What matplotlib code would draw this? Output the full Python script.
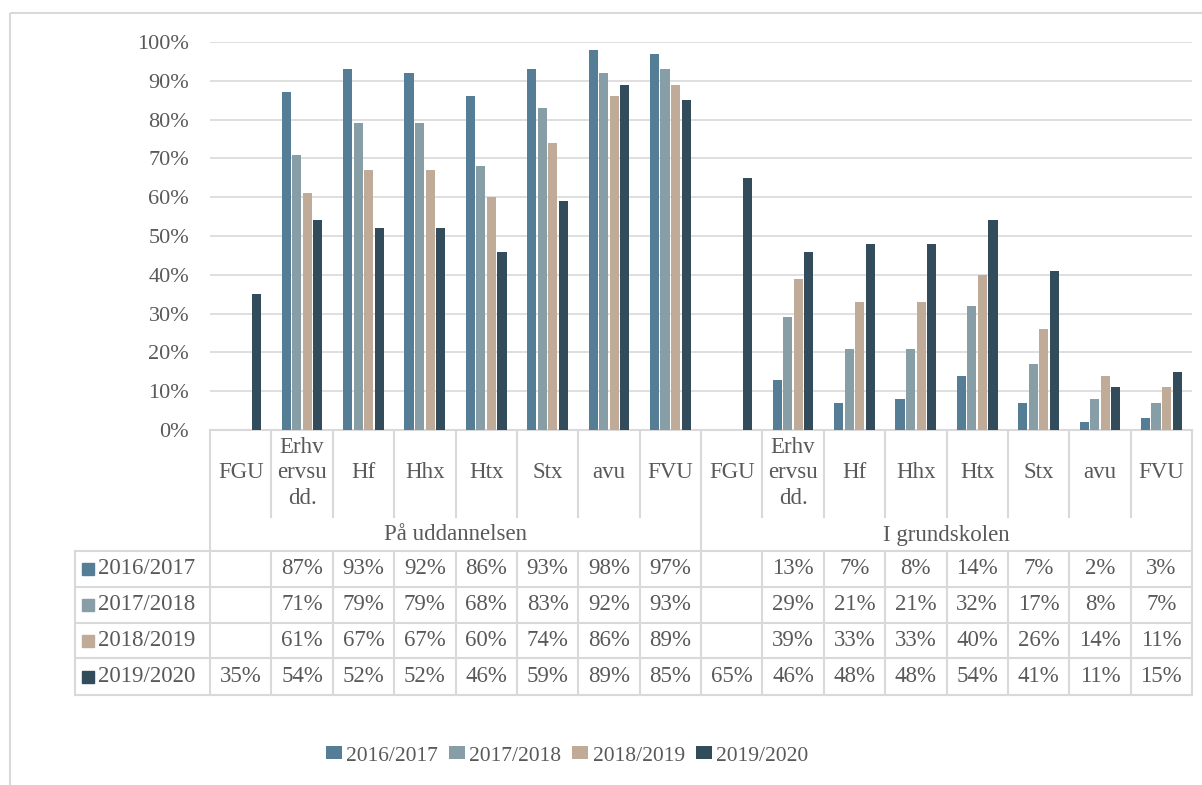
import numpy as np
import matplotlib.pyplot as plt
from matplotlib.transforms import Affine2D, blended_transform_factory
from matplotlib.patches import Rectangle

plt.rcParams['font.family'] = ['Liberation Serif', 'DejaVu Serif']

# data
categories = ["FGU", "Erhv\nervsu\ndd.", "Hf", "Hhx", "Htx", "Stx", "avu", "FVU",
              "FGU", "Erhv\nervsu\ndd.", "Hf", "Hhx", "Htx", "Stx", "avu", "FVU"]
groups = ["På uddannelsen", "I grundskolen"]
years = ["2016/2017", "2017/2018", "2018/2019", "2019/2020"]
v2016 = [None, 87, 93, 92, 86, 93, 98, 97, None, 13, 7, 8, 14, 7, 2, 3]
v2017 = [None, 71, 79, 79, 68, 83, 92, 93, None, 29, 21, 21, 32, 17, 8, 7]
v2018 = [None, 61, 67, 67, 60, 74, 86, 89, None, 39, 33, 33, 40, 26, 14, 11]
v2019 = [35, 54, 52, 52, 46, 59, 89, 85, 65, 46, 48, 48, 54, 41, 11, 15]
colors = ["#557E96", "#879EA7", "#BFAB97", "#324C5C"]

series = [v2016, v2017, v2018, v2019]
txt = "#595959"
grid = "#D9D9D9"

W, H = 1202, 785
fig = plt.figure(figsize=(W / 100, H / 100), dpi=100)
px = Affine2D().scale(1 / W, -1 / H).translate(0, 1) + fig.transFigure

ax = fig.add_axes([210 / W, 1 - 430 / H, (1192 - 210) / W, (430 - 42) / H])
n = len(categories)
ax.set_xlim(-0.5, n - 0.5)
ax.set_ylim(0, 100)

step, bw = 0.172, 0.148
bars = []
for k, vals in enumerate(series):
    v = np.array([np.nan if a is None else a for a in vals], float)
    b = ax.bar(np.arange(n) + (k - 1.5) * step, v, width=bw, color=colors[k], zorder=3)
    bars.append(b)

ax.set_yticks(range(0, 101, 10))
ax.set_yticklabels([f"{t}%" for t in range(0, 101, 10)], color=txt, fontsize=16)
ax.tick_params(axis='y', length=0, pad=15)
ax.set_xticks([])
ax.yaxis.grid(True, color=grid, lw=1.2)
ax.set_axisbelow(True)
for s in ax.spines.values():
    s.set_visible(False)

# data table under the axis
tr = blended_transform_factory(ax.transData, px)
lkw = dict(color=grid, lw=1.5, clip_on=False)
row_y = [551, 587, 623, 658, 695]

ax.plot([-0.5, n - 0.5], [430, 430], transform=tr, **lkw)
for y in row_y:
    ax.plot([75, 1192], [y, y], transform=px, **lkw)
ax.plot([75, 75], [row_y[0], row_y[-1]], transform=px, **lkw)
for i in range(n + 1):
    e = i - 0.5
    if i in (0, 8, n):
        ax.plot([e, e], [430, row_y[-1]], transform=tr, **lkw)
    else:
        ax.plot([e, e], [430, 517], transform=tr, **lkw)
        ax.plot([e, e], [row_y[0], row_y[-1]], transform=tr, **lkw)

for i, c in enumerate(categories):
    ax.text(i, 473, c, transform=tr, ha='center', va='center', fontsize=16.5,
            color=txt, linespacing=1.3)
for g, name in enumerate(groups):
    ax.text(g * 8 + 3.5, 535, name, transform=tr, ha='center', va='center',
            fontsize=16.5, color=txt)

for r, (yr, vals) in enumerate(zip(years, series)):
    yc = (row_y[r] + row_y[r + 1]) / 2
    ax.add_patch(Rectangle((82, yc - 6), 12, 12, transform=px, color=colors[r],
                           clip_on=False))
    ax.text(98, yc, yr, transform=px, ha='left', va='center', fontsize=16.5, color=txt)
    for i, v in enumerate(vals):
        if v is not None:
            ax.text(i, yc, f"{v}%", transform=tr, ha='center', va='center',
                    fontsize=16.5, color=txt)

# legend
leg = fig.legend(bars, years, loc='center', bbox_to_anchor=(567 / W, 1 - 756 / H),
                 ncol=4, frameon=False, fontsize=15.5, handlelength=0.75,
                 handleheight=0.55, handletextpad=0.2, columnspacing=0.5)
for t in leg.get_texts():
    t.set_color(txt)

# outer chart border
fig.add_artist(Rectangle((10, 13), 1300, 900, transform=px, fill=False,
                         edgecolor=grid, lw=1.5))

fig.savefig("out.png", dpi=100)
